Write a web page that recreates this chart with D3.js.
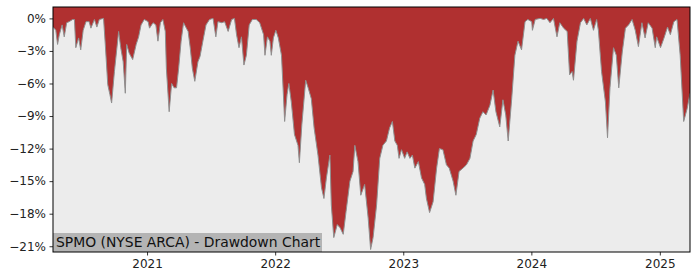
<!DOCTYPE html>
<html>
<head>
<meta charset="utf-8">
<script src="https://cdn.jsdelivr.net/npm/d3@7"></script>
<style>
  body { margin: 0; background: #fff; }
  svg { display: block; font-family: "DejaVu Sans", sans-serif; }
</style>
</head>
<body>
<svg id="chart" width="700" height="280"></svg>
<script>
// drawdown readings (percent below running peak)
const dates = [
  '2020-04-08','2020-04-16','2020-04-21','2020-04-26','2020-05-04','2020-05-10','2020-05-17','2020-05-24',
  '2020-06-03','2020-06-08','2020-06-12','2020-06-20','2020-06-26','2020-07-03','2020-07-11','2020-07-20',
  '2020-07-25','2020-08-04','2020-08-11','2020-08-18','2020-08-30','2020-09-04','2020-09-11','2020-09-17',
  '2020-09-22','2020-09-30','2020-10-12','2020-10-18','2020-10-25','2020-10-31','2020-11-04','2020-11-11',
  '2020-11-21','2020-12-01','2020-12-08','2020-12-15','2020-12-24',
  '2021-01-04','2021-01-08','2021-01-18','2021-01-26','2021-02-01','2021-02-08','2021-02-15','2021-02-22',
  '2021-02-25','2021-03-05','2021-03-12','2021-03-19','2021-03-26','2021-04-01','2021-04-08','2021-04-15',
  '2021-04-23','2021-04-28','2021-05-04','2021-05-10','2021-05-17','2021-05-26','2021-06-01','2021-06-09',
  '2021-06-18','2021-06-28','2021-07-08','2021-07-16','2021-07-22','2021-08-02','2021-08-10','2021-08-20',
  '2021-08-30','2021-09-07','2021-09-13','2021-09-20','2021-09-27','2021-10-04','2021-10-11','2021-10-19',
  '2021-10-28','2021-11-08','2021-11-18','2021-11-29','2021-12-03','2021-12-10','2021-12-17','2021-12-21',
  '2021-12-27',
  '2022-01-03','2022-01-10','2022-01-19','2022-01-24','2022-01-28','2022-02-04','2022-02-09','2022-02-16',
  '2022-02-25','2022-03-07','2022-03-11','2022-03-18','2022-03-29','2022-04-05','2022-04-14','2022-04-22',
  '2022-05-03','2022-05-13','2022-05-20','2022-05-27','2022-06-06','2022-06-10','2022-06-17','2022-06-27',
  '2022-07-05','2022-07-14','2022-07-22','2022-08-02','2022-08-11','2022-08-16','2022-08-25','2022-09-02',
  '2022-09-13','2022-09-23','2022-09-30','2022-10-07','2022-10-17','2022-10-26','2022-11-04','2022-11-14',
  '2022-11-23','2022-12-01','2022-12-08','2022-12-15','2022-12-20','2022-12-27',
  '2023-01-05','2023-01-12','2023-01-20','2023-01-27','2023-02-03','2023-02-13','2023-02-22','2023-03-03',
  '2023-03-08','2023-03-17','2023-03-27','2023-04-06','2023-04-14','2023-04-24','2023-05-04','2023-05-12',
  '2023-05-23','2023-05-31','2023-06-09','2023-06-20','2023-06-30','2023-07-10','2023-07-19','2023-07-28',
  '2023-08-07','2023-08-16','2023-08-25','2023-09-05','2023-09-14','2023-09-22','2023-10-03','2023-10-12',
  '2023-10-20','2023-10-27','2023-11-06','2023-11-15','2023-11-24','2023-12-04','2023-12-14','2023-12-22',
  '2024-01-02','2024-01-04','2024-01-12','2024-01-26','2024-02-05','2024-02-14','2024-02-23','2024-03-04',
  '2024-03-14','2024-03-22','2024-04-02','2024-04-12','2024-04-19','2024-04-26','2024-04-30','2024-05-10',
  '2024-05-20','2024-05-29','2024-06-07','2024-06-17','2024-06-26','2024-07-05','2024-07-10','2024-07-19',
  '2024-07-30','2024-08-05','2024-08-12','2024-08-22','2024-08-30','2024-09-06','2024-09-16','2024-09-25',
  '2024-10-04','2024-10-14','2024-10-23','2024-11-01','2024-11-11','2024-11-20','2024-11-29','2024-12-10',
  '2024-12-19','2024-12-23',
  '2025-01-03','2025-01-13','2025-01-23','2025-01-31','2025-02-10','2025-02-19','2025-02-28','2025-03-10',
  '2025-03-20','2025-03-28'
]
const drawdown = [
  -0.8,-1.1,-2.4,-1.5,-0.6,-1.7,-0.4,-0.3,
  -0.1,-0.1,-2.7,-1.8,-2.9,-1.1,-0.3,-0.3,
  -0.9,-0.1,-0.8,-0.1,0,-2.4,-6.1,-7.0,
  -7.8,-4.9,-1.2,-2.7,-4.0,-6.9,-2.4,-3.2,
  -3.8,-2.4,-1.7,-0.6,-0.1,
  -0.3,-0.9,-0.4,-0.6,-2.1,-0.4,-0.1,-1.2,
  -4.6,-8.6,-6.0,-6.4,-6.4,-4.6,-2.1,-0.4,
  -0.9,-1.2,-2.7,-4.6,-5.8,-4.0,-3.5,-2.1,
  -0.6,-0.1,0,-1.7,-0.3,-0.4,-0.3,-1.2,
  -0.1,0,-1.5,-2.7,-1.7,-4.3,-3.4,-0.6,
  -0.1,-0.1,-0.4,-1.5,-3.4,-1.7,-2.1,-3.4,
  -1.8,
  -1.1,-1.8,-3.4,-6.7,-9.5,-7.0,-6.0,-7.7,
  -10.7,-11.7,-13.3,-9.8,-5.7,-6.4,-7.4,-10.1,
  -12.6,-15.6,-16.6,-14.7,-12.6,-17.2,-20.2,-19.0,
  -19.3,-19.9,-17.8,-15.0,-14.1,-11.7,-13.2,-16.3,
  -15.3,-18.4,-21.3,-20.2,-17.2,-12.9,-11.7,-11.3,
  -10.1,-9.5,-11.3,-11.7,-12.9,-12.1,
  -12.9,-12.3,-12.9,-12.6,-13.8,-13.2,-14.7,-15.3,
  -16.6,-17.9,-16.9,-13.8,-12.0,-12.1,-13.5,-13.8,
  -15.0,-16.3,-14.1,-13.8,-13.5,-12.9,-11.3,-10.7,
  -9.2,-8.6,-8.9,-8.0,-6.6,-8.6,-10.0,-7.5,
  -8.9,-11.3,-7.4,-3.4,-2.1,-2.9,-0.3,-0.1,
  -0.3,-1.1,-0.1,0,-0.1,0,-0.4,0,
  -1.7,-0.4,-0.9,-1.2,-5.2,-4.9,-5.7,-2.1,
  -0.4,0,-0.6,0,-1.1,-0.1,-1.1,-4.9,
  -7.7,-11.0,-6.4,-2.7,-3.4,-6.4,-3.1,-0.9,
  -0.6,-0.1,-1.1,-2.6,-0.4,-1.8,-0.4,-0.9,
  -2.7,-1.7,
  -2.7,-1.8,-0.8,-1.5,-0.3,-0.1,-3.4,-9.5,
  -8.3,-6.9
]
const yTicks = [0, -3, -6, -9, -12, -15, -18, -21]
const xTicks = ['2021-01-01', '2022-01-01', '2023-01-01', '2024-01-01', '2025-01-01']
const title = 'SPMO (NYSE ARCA) - Drawdown Chart'

const width = 700
const height = 280
const margin = { top: 7, right: 10, bottom: 28, left: 53 }

const parse = d3.utcParse('%Y-%m-%d')
const data = dates.map((d, i) => ({ date: parse(d), value: drawdown[i] }))

const xScale = d3.scaleUtc()
  .domain(d3.extent(data, d => d.date))
  .range([margin.left, width - margin.right])

const yScale = d3.scaleLinear()
  .domain([1.05, -21.53])
  .range([margin.top, height - margin.bottom])

const svg = d3.select('#chart')

svg.append('clipPath').attr('id', 'plot-clip')
  .append('rect')
  .attr('x', margin.left).attr('y', margin.top)
  .attr('width', width - margin.left - margin.right)
  .attr('height', height - margin.top - margin.bottom)

const plot = svg.append('g').attr('clip-path', 'url(#plot-clip)')

// red: the part lost from the peak
plot.append('rect')
  .attr('x', margin.left).attr('y', margin.top)
  .attr('width', width - margin.left - margin.right)
  .attr('height', height - margin.top - margin.bottom)
  .attr('fill', '#b03030')

const area = d3.area()
  .x(d => xScale(d.date))
  .y0(height - margin.bottom)
  .y1(d => yScale(d.value))

plot.append('path')
  .datum(data)
  .attr('d', area)
  .attr('fill', '#ececec')

const line = d3.line()
  .x(d => xScale(d.date))
  .y(d => yScale(d.value))

plot.append('path')
  .datum(data)
  .attr('d', line)
  .attr('fill', 'none')
  .attr('stroke', '#8f8f8f')
  .attr('stroke-width', 1)

// title box in the lower left corner
svg.append('rect')
  .attr('x', margin.left).attr('y', 233)
  .attr('width', 269).attr('height', height - margin.bottom - 233)
  .attr('fill', '#b4b4b4')

svg.append('text')
  .attr('x', margin.left + 3).attr('y', 246.8)
  .attr('font-size', '13.9px')
  .attr('fill', '#111')
  .text(title)

// frame
svg.append('rect')
  .attr('x', margin.left).attr('y', margin.top)
  .attr('width', width - margin.left - margin.right)
  .attr('height', height - margin.top - margin.bottom)
  .attr('fill', 'none')
  .attr('stroke', '#000')
  .attr('stroke-width', 1)

const fmtPct = v => (v < 0 ? '\u2212' + Math.abs(v) : v) + '%'

const yAxisG = svg.append('g')
  .attr('transform', `translate(${margin.left}, 0)`)
  .call(d3.axisLeft(yScale).tickValues(yTicks).tickFormat(fmtPct).tickSize(3.5).tickPadding(3.5))
yAxisG.select('.domain').remove()

const xAxisG = svg.append('g')
  .attr('transform', `translate(0, ${height - margin.bottom})`)
  .call(d3.axisBottom(xScale).tickValues(xTicks.map(parse)).tickFormat(d3.utcFormat('%Y')).tickSize(3.5).tickPadding(3.5))
xAxisG.select('.domain').remove()

svg.selectAll('.tick text')
  .attr('font-family', '"DejaVu Sans", sans-serif')
  .attr('font-size', '12px')
  .attr('fill', '#222')
svg.selectAll('.tick line').attr('stroke', '#000').attr('stroke-width', 0.8)
</script>
</body>
</html>
